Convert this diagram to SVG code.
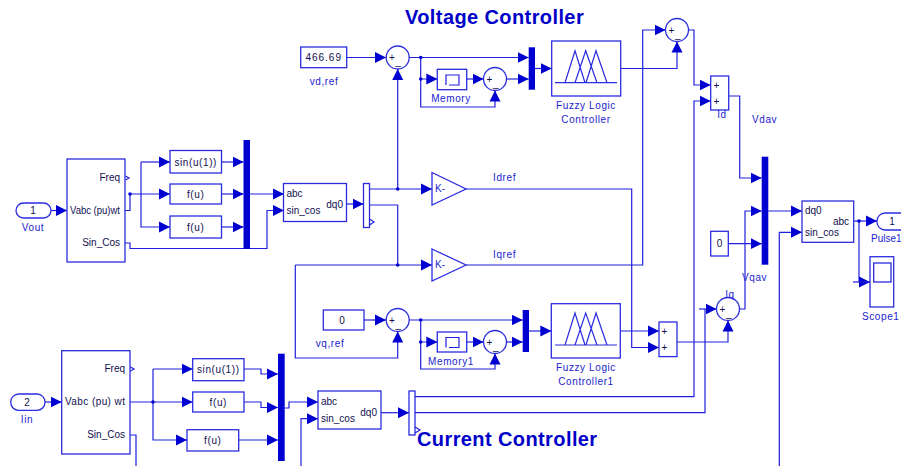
<svg xmlns="http://www.w3.org/2000/svg" width="901" height="466" viewBox="0 0 901 466">
<style>
.b{fill:#fff;stroke:#2b2be0;stroke-width:1.3}
.w{fill:none;stroke:#2020dc;stroke-width:1.2}
.bar{fill:#0000d0}
.a{fill:#0000d0}
.t{font-family:"Liberation Sans",Arial,sans-serif;font-size:10px;fill:#101050}
.l{font-family:"Liberation Sans",Arial,sans-serif;font-size:10px;fill:#2222cc;letter-spacing:.6px}
.h{font-family:"Liberation Sans",Arial,sans-serif;font-size:20px;font-weight:bold;fill:#0000c8;letter-spacing:.4px}
.m{text-anchor:middle}
.e{text-anchor:end}
.s{letter-spacing:.6px}
.n{letter-spacing:1px}
</style>
<defs>
<marker id="ar" markerUnits="userSpaceOnUse" markerWidth="11" markerHeight="12" refX="11" refY="6" orient="auto"><path d="M0,0.500L11,6L0,11.500z" class="a"/></marker>
<path id="mf" d="M0,0H62M10,0L20,-32L30,0M20,0L30.700,-32L42,0M31,0L41,-32L52,0" fill="none" stroke="#2b2be0" stroke-width="1.2"/>
</defs>
<g id="connectors">
<path class="w" marker-end="url(#ar)" d="M51,210.500H67"/>
<path class="w" d="M125,210.500H130V194"/>
<path class="w" marker-end="url(#ar)" d="M130,194H170"/>
<path class="w" marker-end="url(#ar)" d="M141,162V227H170"/>
<path class="w" marker-end="url(#ar)" d="M141,162H170"/>
<path class="w" marker-end="url(#ar)" d="M221,162H243.500"/>
<path class="w" marker-end="url(#ar)" d="M221,194H243.500"/>
<path class="w" marker-end="url(#ar)" d="M221,227H243.500"/>
<path class="w" marker-end="url(#ar)" d="M250,194H284"/>
<path class="w" marker-end="url(#ar)" d="M125,243H130V248.500H267V210.500H284"/>
<path class="w" marker-end="url(#ar)" d="M347,204H363.500"/>
<path class="w" marker-end="url(#ar)" d="M369.500,189H432"/>
<path class="w" d="M369.500,205H397.700V265"/>
<path class="w" marker-end="url(#ar)" d="M295.300,265H432"/>
<path class="w" marker-end="url(#ar)" d="M397.700,189V69"/>
<path class="w" marker-end="url(#ar)" d="M346.700,57.500H386"/>
<path class="w" marker-end="url(#ar)" d="M409.200,57.500H528.700"/>
<path class="w" marker-end="url(#ar)" d="M420.700,57.500V79H437.300"/>
<path class="w" marker-end="url(#ar)" d="M420.700,79V107H495V90.500"/>
<path class="w" marker-end="url(#ar)" d="M466.700,79H483.500"/>
<path class="w" marker-end="url(#ar)" d="M506.500,79H528.700"/>
<path class="w" marker-end="url(#ar)" d="M535,68.500H551.700"/>
<path class="w" marker-end="url(#ar)" d="M620.700,68.500H677V41.500"/>
<path class="w" marker-end="url(#ar)" d="M466,265H642.700V30H665.500"/>
<path class="w" marker-end="url(#ar)" d="M688.500,30H694V85H710.700"/>
<path class="w" marker-end="url(#ar)" d="M694,397V101H710.700"/>
<path class="w" marker-end="url(#ar)" d="M728.700,96H739.700V178H761.700"/>
<path class="w" marker-end="url(#ar)" d="M466,189H631.700V347.500H659"/>
<path class="w" marker-end="url(#ar)" d="M620.300,331H659"/>
<path class="w" marker-end="url(#ar)" d="M677,342H728V320.500"/>
<path class="w" marker-end="url(#ar)" d="M364,320H386"/>
<path class="w" marker-end="url(#ar)" d="M295.300,265V358H397.700V331.500"/>
<path class="w" marker-end="url(#ar)" d="M409.200,320H522.700"/>
<path class="w" marker-end="url(#ar)" d="M420.700,320V342H437.300"/>
<path class="w" marker-end="url(#ar)" d="M420.700,342V369H495V353.500"/>
<path class="w" marker-end="url(#ar)" d="M466.700,342H483.500"/>
<path class="w" marker-end="url(#ar)" d="M506.500,342H522.700"/>
<path class="w" marker-end="url(#ar)" d="M529,331H551.300"/>
<path class="w" marker-end="url(#ar)" d="M739.500,309H745V211H761.700"/>
<path class="w" marker-end="url(#ar)" d="M699,309H716.500"/>
<path class="w" d="M415,412.700H705V309"/>
<path class="w" d="M415,396.700H694"/>
<path class="w" marker-end="url(#ar)" d="M728.300,243.700H761.700"/>
<path class="w" marker-end="url(#ar)" d="M768.300,211H802"/>
<path class="w" marker-end="url(#ar)" d="M779.300,466V232.300H802"/>
<path class="w" marker-end="url(#ar)" d="M853.700,221H877"/>
<path class="w" marker-end="url(#ar)" d="M859,221V282H870"/>
<path class="w" d="M853,282H870"/>
<path class="w" marker-end="url(#ar)" d="M45,402H61.700"/>
<path class="w" d="M130,435H136V466"/>
<path class="w" marker-end="url(#ar)" d="M130,402H192.700"/>
<path class="w" marker-end="url(#ar)" d="M153,369V440H187"/>
<path class="w" marker-end="url(#ar)" d="M153,369H192.700"/>
<path class="w" marker-end="url(#ar)" d="M244,369H261V374H278"/>
<path class="w" marker-end="url(#ar)" d="M244,402H261V407.500H278"/>
<path class="w" marker-end="url(#ar)" d="M238.700,440H278"/>
<path class="w" marker-end="url(#ar)" d="M284.700,408H289V402H318"/>
<path class="w" marker-end="url(#ar)" d="M301,466V418.700H318"/>
<path class="w" marker-end="url(#ar)" d="M381,412.700H409"/>
<g class="a"><circle cx="130" cy="194" r="1.800"/><circle cx="397.700" cy="189" r="1.800"/><circle cx="397.700" cy="265" r="1.800"/><circle cx="420.700" cy="57.500" r="1.800"/><circle cx="420.700" cy="79" r="1.800"/><circle cx="420.700" cy="320" r="1.800"/><circle cx="420.700" cy="342" r="1.800"/><circle cx="859" cy="221" r="1.800"/><circle cx="153" cy="402" r="1.800"/></g>
</g>
<g id="vout"><rect class="b" x="16" y="203" width="35" height="15" rx="7.500"/><text class="t m" x="33" y="214">1</text><text class="l m" x="33" y="231">Vout</text></g>
<g id="pll1"><rect class="b" x="67" y="159" width="58" height="103"/><text class="t e" x="120" y="181">Freq</text><text class="t" x="70" y="214" textLength="50" lengthAdjust="spacingAndGlyphs">Vabc (pu)wt</text><text class="t e" x="120" y="246">Sin_Cos</text><path class="w" d="M125.500,176L129,178L125.500,180"/></g>
<g id="f1"><rect class="b" x="170" y="150.500" width="51.500" height="22.500"/><text class="t m s" x="195.700" y="165.500">sin(u(1))</text></g>
<g id="f2"><rect class="b" x="170" y="184" width="51.500" height="20"/><text class="t m s" x="195.700" y="198">f(u)</text></g>
<g id="f3"><rect class="b" x="170" y="216" width="51.500" height="22"/><text class="t m s" x="195.700" y="231">f(u)</text></g>
<g id="mux1"><rect class="bar" x="243.500" y="140" width="6.500" height="109"/></g>
<g id="t1"><rect class="b" x="283.500" y="183.500" width="63" height="38"/><text class="t" x="286.500" y="197">abc</text><text class="t" x="286.500" y="214">sin_cos</text><text class="t e" x="343" y="208">dq0</text></g>
<g id="dm1"><rect class="b" x="363.500" y="183.500" width="6" height="44"/><path class="w" d="M369.500,219L374,222L369.500,225"/></g>
<g id="k1"><path class="b" d="M432,172.500L466,189L432,205z"/><text class="t" x="435" y="192" style="fill:#2222cc">K-</text></g>
<g id="k2"><path class="b" d="M432,249L466,265L432,281z"/><text class="t" x="435" y="268" style="fill:#2222cc">K-</text></g>
<text class="l" x="493" y="181">Idref</text>
<text class="l" x="493" y="258">Iqref</text>
<g id="c1"><rect class="b" x="300.700" y="47" width="46" height="20.700"/><text class="t m n" x="323.700" y="61">466.69</text><text class="l m" x="324" y="85">vd,ref</text></g>
<g id="s1"><circle class="b" cx="397.700" cy="57.500" r="11.500"/><text class="t" x="389" y="61">+</text><text class="t" x="395.500" y="65">_</text></g>
<g id="mem"><rect class="b" x="437.300" y="69.300" width="29.400" height="20.400"/><path class="w" d="M446,85V75H459V85H449"/><text class="l m" x="451" y="102">Memory</text></g>
<g id="s2"><circle class="b" cx="495" cy="79" r="11.500"/><text class="t" x="486.500" y="82.500">+</text><text class="t" x="493" y="86.500">_</text></g>
<g id="mux2"><rect class="bar" x="528.700" y="47.300" width="6.300" height="42.400"/></g>
<g id="fz1"><rect class="b" x="551.700" y="41" width="69" height="55"/><use href="#mf" x="555" y="82.700"/><text class="l m" x="586" y="109">Fuzzy Logic</text><text class="l m" x="586" y="123">Controller</text></g>
<g id="s3"><circle class="b" cx="677" cy="30" r="11.500"/><text class="t" x="668.500" y="33.500">+</text><text class="t" x="675" y="37.500">_</text></g>
<g id="sumd"><rect class="b" x="710.700" y="76" width="18" height="34"/><text class="t" x="713.500" y="88.500">+</text><text class="t" x="713.500" y="105">+</text><text class="l m" x="722" y="118">Id</text></g>
<text class="l" x="752" y="123">Vdav</text>
<g id="mux3"><rect class="bar" x="761.700" y="156.700" width="6.600" height="108"/></g>
<g id="c3"><rect class="b" x="710.700" y="231.300" width="17.600" height="24.700"/><text class="t m" x="719.500" y="247">0</text></g>
<text class="l" x="742" y="281">Vqav</text>
<g id="t3"><rect class="b" x="802" y="201" width="51.700" height="41.300"/><text class="t" x="805" y="214">dq0</text><text class="t e" x="849" y="225">abc</text><text class="t" x="805" y="236">sin_cos</text></g>
<g id="pulse"><rect class="b" x="877" y="213" width="36" height="17" rx="8"/><text class="t m" x="892" y="225">1</text><text class="l" x="871" y="242" style="letter-spacing:0">Pulse1</text></g>
<g id="scope"><rect class="b" x="870" y="256.700" width="23.700" height="50.300"/><rect class="b" x="873.700" y="263" width="17.300" height="19"/><text class="l" x="862" y="320">Scope1</text></g>
<g id="c2"><rect class="b" x="323.300" y="310" width="40.700" height="20"/><text class="t m" x="342" y="323.500">0</text><text class="l m" x="330" y="347">vq,ref</text></g>
<g id="s4"><circle class="b" cx="397.700" cy="320" r="11.500"/><text class="t" x="389" y="323.500">+</text><text class="t" x="395.500" y="327.500">_</text></g>
<g id="mem1"><rect class="b" x="437.300" y="332" width="29.400" height="20"/><path class="w" d="M446,347.500V337.500H459V347.500H449"/><text class="l m" x="451" y="364.500">Memory1</text></g>
<g id="s5"><circle class="b" cx="495" cy="342" r="11.500"/><text class="t" x="486.500" y="345.500">+</text><text class="t" x="493" y="349.500">_</text></g>
<g id="mux4"><rect class="bar" x="522.700" y="310" width="6.300" height="42"/></g>
<g id="fz2"><rect class="b" x="551.300" y="303.700" width="69" height="54.300"/><use href="#mf" x="555" y="345"/><text class="l m" x="586" y="371">Fuzzy Logic</text><text class="l m" x="586" y="385">Controller1</text></g>
<g id="sumq"><rect class="b" x="659" y="322" width="18" height="34.600"/><text class="t" x="661.500" y="334.500">+</text><text class="t" x="661.500" y="351">+</text></g>
<g id="s6"><circle class="b" cx="728" cy="309" r="11.500"/><text class="t" x="719.500" y="312.500">+</text><text class="t" x="726" y="316.500">_</text><text class="l m" x="730" y="298">Iq</text></g>
<g id="lin"><rect class="b" x="10.700" y="394" width="34.300" height="16.300" rx="8"/><text class="t m" x="27" y="405.500">2</text><text class="l m" x="27" y="423">Iin</text></g>
<g id="pll2"><rect class="b" x="61.700" y="350.700" width="68.300" height="103.300"/><text class="t e" x="125" y="372">Freq</text><text class="t" x="65" y="405" textLength="60" lengthAdjust="spacing">Vabc (pu) wt</text><text class="t e" x="125" y="438">Sin_Cos</text><path class="w" d="M130.500,367L134,369L130.500,371"/></g>
<g id="f4"><rect class="b" x="192.700" y="358.700" width="51.300" height="22"/><text class="t m s" x="218.300" y="373">sin(u(1))</text></g>
<g id="f5"><rect class="b" x="192.700" y="392" width="51.300" height="20"/><text class="t m s" x="218.300" y="406">f(u)</text></g>
<g id="f6"><rect class="b" x="187" y="429.700" width="51.700" height="21.300"/><text class="t m s" x="212.800" y="444">f(u)</text></g>
<g id="mux5"><rect class="bar" x="278" y="353.700" width="6.700" height="107.300"/></g>
<g id="t2"><rect class="b" x="318" y="391" width="63" height="38"/><text class="t" x="321" y="405">abc</text><text class="t" x="321" y="422">sin_cos</text><text class="t e" x="377" y="416">dq0</text></g>
<g id="dm2"><rect class="b" x="409" y="391" width="6" height="44"/><path class="w" d="M415,427L420,430L415,433"/></g>
<text class="h" x="405" y="24">Voltage Controller</text>
<text class="h" x="417" y="446">Current Controller</text>
</svg>
